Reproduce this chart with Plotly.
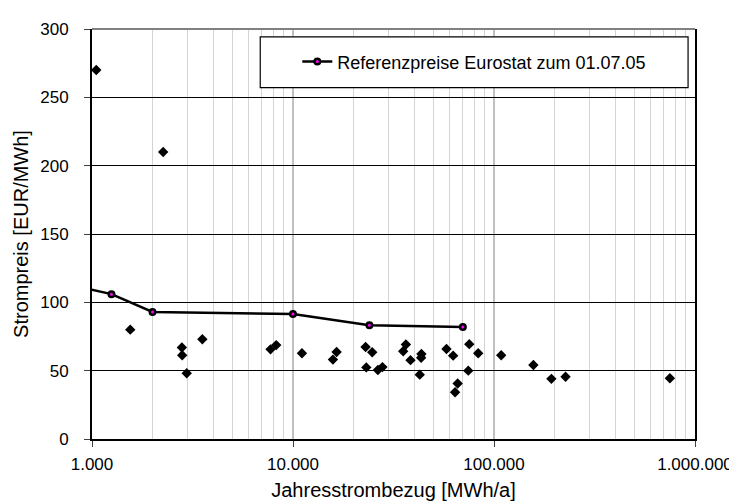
import plotly.graph_objects as go

# Scatter data (annual consumption MWh/a, price EUR/MWh)
scatter_x = [1050, 2260, 1550, 2800, 2810, 2960, 3540, 7730, 8250, 11080, 15800, 16480,
             22970, 24780, 23160, 26440, 27860, 35340, 36450, 38420, 43540, 43400, 42720,
             58030, 62630, 65950, 64020, 75340, 74470, 83430, 108600, 157000, 193000,
             227000, 750000]
scatter_y = [270, 210, 80, 67, 61.3, 48.1, 73, 65.6, 68.7, 62.7, 58.1, 63.7,
             67.3, 63.5, 52.4, 50.5, 52.6, 64.2, 69.2, 57.7, 62.2, 59.4, 47.1,
             65.8, 61.0, 40.6, 34.2, 69.4, 50.0, 62.7, 61.3, 54.1, 44.0,
             45.5, 44.5]

# Eurostat reference prices
ref_x = [160, 1250, 2000, 10000, 24000, 70000]
ref_y = [136, 106, 93, 91.5, 83.2, 82]

x_tickvals = [1000, 10000, 100000, 1000000]
x_ticktext = ["1.000", "10.000", "100.000", "1.000.000"]
y_tickvals = [0, 50, 100, 150, 200, 250, 300]

FONT = "Liberation Sans, Arial, sans-serif"

fig = go.Figure()
fig.add_trace(go.Scatter(
    x=scatter_x, y=scatter_y, mode="markers", showlegend=False,
    marker=dict(symbol="diamond", size=8, color="black"),
))
fig.add_trace(go.Scatter(
    x=ref_x, y=ref_y, mode="lines+markers",
    name="Referenzpreise Eurostat zum 01.07.05",
    line=dict(color="black", width=2.5),
    marker=dict(symbol="circle", size=5.5, color="#ff00ff",
                line=dict(color="black", width=2.5)),
))

fig.update_layout(
    width=737, height=502,
    margin=dict(l=84, r=44, t=20, b=64.5),
    paper_bgcolor="white", plot_bgcolor="white",
    font=dict(family=FONT, size=17, color="black"),
    showlegend=True,
    legend=dict(x=0.634, xanchor="center", y=0.92, yanchor="middle",
                bgcolor="rgba(0,0,0,0)", borderwidth=0,
                font=dict(size=18)),
    shapes=[
        dict(type="rect", xref="paper", yref="paper", x0=0.279, x1=0.9885,
             y0=0.857, y1=0.981, line=dict(color="black", width=1.2),
             fillcolor="white", layer="above"),
        dict(type="line", xref="paper", yref="paper", x0=0, x1=1, y0=1, y1=1,
             line=dict(color="#808080", width=2), layer="above"),
    ],
)

fig.update_xaxes(
    type="log", range=[3, 6],
    tickvals=x_tickvals, ticktext=x_ticktext,
    showgrid=True, gridcolor="#c0c0c0", gridwidth=2,
    minor=dict(dtick="D1", showgrid=True, gridcolor="#d4d4d4", gridwidth=1, ticklen=0),
    showline=True, linecolor="black", linewidth=2,
    ticks="outside", ticklen=6, tickcolor="#404040", tickwidth=1,
    ticklabelstandoff=3,
    title=dict(text="Jahresstrombezug [MWh/a]", standoff=10),
    zeroline=False,
)
fig.update_yaxes(
    range=[0, 300], tickvals=y_tickvals,
    showgrid=True, gridcolor="black", gridwidth=1,
    showline=True, linecolor="black", linewidth=2, mirror=True,
    ticks="outside", ticklen=6, tickcolor="#404040", tickwidth=1,
    ticklabelstandoff=12,
    title=dict(text="Strompreis [EUR/MWh]", standoff=6),
    zeroline=False,
)

fig.write_html("out.html")
